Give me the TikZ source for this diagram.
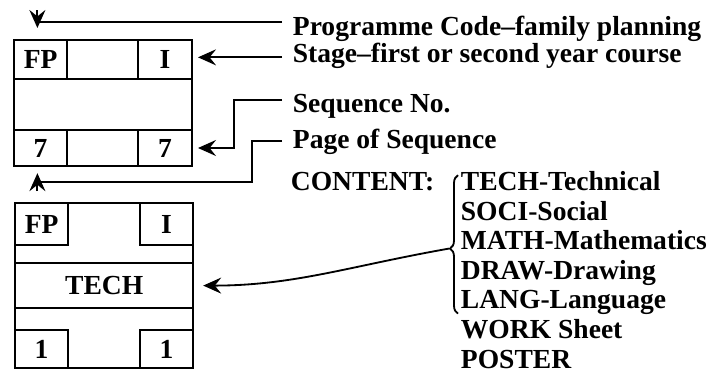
\documentclass[tikz,border=0pt]{standalone}
\usepackage{fontspec}
\setmainfont{Liberation Serif}
\usetikzlibrary{positioning, arrows.meta, decorations.pathreplacing, calc}

\begin{document}
\begin{tikzpicture}[
  font=\fontsize{19.6}{22}\selectfont\bfseries,
  line width=1.3pt,
  cell/.style={draw, inner sep=0pt, outer sep=0pt},
  lbl/.style={anchor=base west, inner xsep=2.5mm, inner ysep=0pt},
  item/.style={anchor=base west, inner xsep=0.5mm, inner ysep=0pt},
  arr/.style={-{Stealth[length=4.5mm, width=4mm, inset=1.6mm]}, line width=1.3pt},
  brace/.style={decorate, decoration={brace, amplitude=2mm, aspect=0.47}, line width=1.3pt}
]
  \useasboundingbox (0,0) rectangle (17.825,-9.35);

  % Card 1: codes only
  \node[cell, minimum width=13.3mm, minimum height=9.8mm] (fpA) at (1.015,-1.49) {FP};
  \node[cell, minimum width=17.7mm, minimum height=9.8mm] (gapA) at (2.565,-1.49) {};
  \node[cell, minimum width=13.5mm, minimum height=9.8mm] (stA) at (4.125,-1.49) {I};
  \node[cell, minimum width=44.5mm, minimum height=12.7mm] (midA) at (2.575,-2.615) {};
  \node[cell, minimum width=13.3mm, minimum height=9mm] (sqA) at (1.015,-3.7) {7};
  \node[cell, minimum width=17.7mm, minimum height=9mm] (gapB) at (2.565,-3.7) {};
  \node[cell, minimum width=13.5mm, minimum height=9mm] (pgA) at (4.125,-3.7) {7};

  % Card 2: with content
  \node[cell, minimum width=44.5mm, minimum height=41.2mm] (cardB) at (2.605,-7.14) {};
  \node[cell, minimum width=44.5mm, minimum height=11.2mm] (tech) at (2.605,-7.14) {TECH};
  \node[cell, minimum width=13.2mm, minimum height=10.5mm] (fpB) at (1.04,-5.605) {FP};
  \node[cell, minimum width=13.3mm, minimum height=10.5mm] (stB) at (4.165,-5.605) {I};
  \node[cell, minimum width=13.2mm, minimum height=9.5mm] (sqB) at (1.04,-8.725) {1};
  \node[cell, minimum width=13.3mm, minimum height=9.5mm] (pgB) at (4.165,-8.725) {1};

  % Labels
  \node[lbl] (lCode) at (7.05,-0.875) {Programme Code--family planning};
  \node[lbl] (lStage) at (7.05,-1.55) {Stage--first or second year course};
  \node[lbl] (lSeq) at (7.05,-2.8) {Sequence No.};
  \node[lbl] (lPage) at (7.05,-3.7) {Page of Sequence};
  \node[lbl] (lContent) at (7.0,-4.76) {CONTENT:};

  % Content list
  \node[item] (lTech) at (11.45,-4.76) {TECH-Technical};
  \node[item] (lSoci) at (11.45,-5.5) {SOCI-Social};
  \node[item] (lMath) at (11.45,-6.24) {MATH-Mathematics};
  \node[item] (lDraw) at (11.45,-6.98) {DRAW-Drawing};
  \node[item] (lLang) at (11.45,-7.72) {LANG-Language};
  \node[item] (lWork) at (11.45,-8.46) {WORK Sheet};
  \node[item] (lPost) at (11.45,-9.2) {POSTER};

  % Brace
  \coordinate (braceBot) at ([yshift=-0.12cm]lLang.base west);
  \coordinate (braceTop) at ([yshift=0.38cm]lTech.base west);
  \draw[brace] (braceBot) -- (braceTop);
  \coordinate (braceTip) at ($(braceBot)!0.47!(braceTop)+(-0.22,0)$);

  % Connectors
  \coordinate (codeTip) at ([xshift=-0.08cm, yshift=0.3cm]fpA.north);
  \draw ([yshift=0.15cm]lCode.west) -| ([yshift=0.15cm]codeTip);
  \draw[arr] ([yshift=0.45cm]codeTip) -- (codeTip);
  \draw[arr, shorten >=1.5mm] ([yshift=-0.05cm]lStage.west) -- ([yshift=-0.05cm]lStage.west -| stA.east);
  \draw[arr, shorten >=1.5mm] ([yshift=0.15cm]lSeq.west) -- ++(-1.2,0) |- (pgA.east);
  \coordinate (pageTip) at ([xshift=-0.08cm, yshift=-0.18cm]sqA.south);
  \draw (lPage.west) -- ++(-0.75,0) |- ([yshift=-0.22cm]pageTip);
  \draw[arr] ([yshift=-0.45cm]pageTip) -- (pageTip);
  \draw[arr, shorten >=2.5mm] (braceTip) to[out=190, in=0] (tech.east);
\end{tikzpicture}
\end{document}
